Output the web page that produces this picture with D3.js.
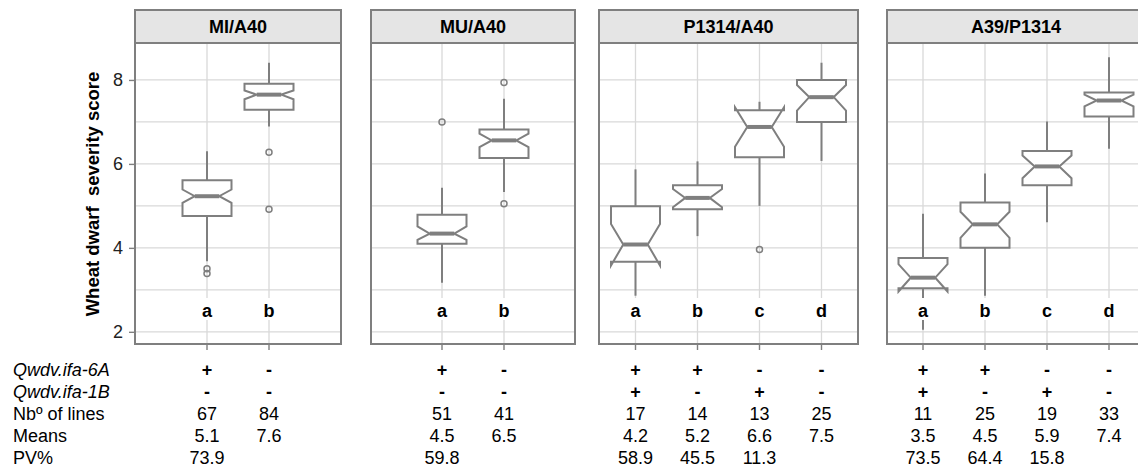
<!DOCTYPE html>
<html><head><meta charset="utf-8">
<script src="https://cdn.jsdelivr.net/npm/d3@7"></script>
<style>body{margin:0;background:#fff}svg{display:block;font-family:"Liberation Sans",Arial,sans-serif}</style>
</head><body><svg id="c" width="1138" height="467"></svg>
<script>
// ---- data ----
const panels = ["MI/A40", "MU/A40", "P1314/A40", "A39/P1314"];
const groupPanel = [0, 0, 1, 1, 2, 2, 2, 2, 3, 3, 3, 3];
const letters = ["a", "b", "a", "b", "a", "b", "c", "d", "a", "b", "c", "d"];
const whiskerLow  = [3.68, 6.89, 3.17, 5.33, 2.86, 4.28, 5.00, 6.07, 2.05, 2.86, 4.61, 6.36];
const q1          = [4.76, 7.29, 4.10, 6.14, 3.67, 4.92, 6.16, 7.00, 3.04, 4.00, 5.49, 7.13];
const notchLow    = [5.07, 7.54, 4.19, 6.40, 3.58, 4.97, 6.41, 7.27, 2.96, 4.24, 5.66, 7.37];
const median      = [5.23, 7.65, 4.34, 6.56, 4.08, 5.19, 6.88, 7.59, 3.29, 4.56, 5.94, 7.51];
const notchHigh   = [5.39, 7.75, 4.51, 6.72, 4.57, 5.40, 7.35, 7.88, 3.61, 4.86, 6.20, 7.65];
const q3          = [5.61, 7.91, 4.79, 6.82, 4.99, 5.49, 7.28, 8.00, 3.76, 5.08, 6.31, 7.70];
const whiskerHigh = [6.30, 8.41, 5.43, 7.55, 5.87, 6.06, 7.48, 8.41, 4.81, 5.77, 7.01, 8.54];
const outliers    = [[3.50, 3.39], [6.28, 4.92], [7.00], [7.94, 5.05], [], [], [3.96], [], [], [], [], []];
const qtl6A   = ["+", "-", "+", "-", "+", "+", "-", "-", "+", "+", "-", "-"];
const qtl1B   = ["-", "-", "-", "-", "+", "-", "+", "-", "+", "-", "+", "-"];
const nLines  = ["67", "84", "51", "41", "17", "14", "13", "25", "11", "25", "19", "33"];
const means   = ["5.1", "7.6", "4.5", "6.5", "4.2", "5.2", "6.6", "7.5", "3.5", "4.5", "5.9", "7.4"];
const pv      = ["73.9", "", "59.8", "", "58.9", "45.5", "11.3", "", "73.5", "64.4", "15.8", ""];
const rowLabels = ["Qwdv.ifa-6A", "Qwdv.ifa-1B", "Nb\u00BA of lines", "Means", "PV%"];
const yTicks = [2, 4, 6, 8];
const yMinor = [3, 5, 7];
const yTitle = "Wheat dwarf  severity score";

// ---- layout ----
const panelLeft = [135, 371, 599, 887];
const panelWidth = [206, 204, 259, 258];
const stripTop = 10, plotTop = 43, plotBottom = 344;
const step = 62, boxW = 49;
const grey = "#7f7f7f", gridC = "#d9d9d9";

const svg = d3.select("#c");
const y = d3.scaleLinear().domain([1.71, 8.88]).range([plotBottom, plotTop]);

const xPos = [];
panels.forEach((p, pi) => {
  const idx = groupPanel.map((g, i) => g === pi ? i : -1).filter(i => i >= 0);
  const n = idx.length;
  const pad = (panelWidth[pi] / step - (n - 1)) / 2;
  const xs = d3.scalePoint().domain(idx).range([panelLeft[pi], panelLeft[pi] + panelWidth[pi]]).padding(pad);
  idx.forEach(i => xPos[i] = xs(i));

  const g = svg.append("g");
  const L = panelLeft[pi], R = L + panelWidth[pi];
  // grid
  yTicks.concat(yMinor).forEach(v => {
    g.append("line").attr("x1", L).attr("x2", R).attr("y1", y(v)).attr("y2", y(v))
      .attr("stroke", gridC).attr("stroke-width", 1.3);
  });
  idx.forEach(i => {
    g.append("line").attr("x1", xs(i)).attr("x2", xs(i)).attr("y1", plotTop).attr("y2", plotBottom)
      .attr("stroke", gridC).attr("stroke-width", 1.3);
    // x ticks
    g.append("line").attr("x1", xs(i)).attr("x2", xs(i)).attr("y1", plotBottom).attr("y2", plotBottom + 6)
      .attr("stroke", grey).attr("stroke-width", 1.4);
  });
  // boxes
  idx.forEach(i => {
    const cx = xs(i), h = boxW / 2, q = boxW / 4;
    const gb = g.append("g").attr("stroke", grey).attr("fill", "none");
    gb.append("line").attr("x1", cx).attr("x2", cx).attr("y1", y(q3[i])).attr("y2", y(whiskerHigh[i])).attr("stroke-width", 2);
    gb.append("line").attr("x1", cx).attr("x2", cx).attr("y1", y(q1[i])).attr("y2", y(whiskerLow[i])).attr("stroke-width", 2);
    const pts = [
      [cx - h, y(q1[i])], [cx - h, y(notchLow[i])], [cx - q, y(median[i])], [cx - h, y(notchHigh[i])],
      [cx - h, y(q3[i])], [cx + h, y(q3[i])], [cx + h, y(notchHigh[i])], [cx + q, y(median[i])],
      [cx + h, y(notchLow[i])], [cx + h, y(q1[i])]
    ];
    gb.append("path").attr("d", d3.line()(pts) + "Z").attr("fill", "#fff").attr("stroke-width", 2)
      .attr("stroke-linejoin", "miter");
    gb.append("line").attr("x1", cx - q).attr("x2", cx + q).attr("y1", y(median[i])).attr("y2", y(median[i])).attr("stroke-width", 4);
    outliers[i].forEach(o => {
      gb.append("circle").attr("cx", cx).attr("cy", y(o)).attr("r", 3).attr("stroke-width", 1.5).attr("fill", "none");
    });
    // letter label
    const ly = 317;
    g.append("rect").attr("x", cx - 10).attr("y", ly - 19).attr("width", 20).attr("height", 22).attr("fill", "#fff");
    g.append("text").attr("x", cx).attr("y", ly).attr("text-anchor", "middle")
      .attr("font-weight", "bold").attr("font-size", 18).attr("fill", "#000").text(letters[i]);
  });
  // border
  g.append("rect").attr("x", L).attr("y", plotTop).attr("width", R - L).attr("height", plotBottom - plotTop)
    .attr("fill", "none").attr("stroke", grey).attr("stroke-width", 2);
  // strip
  g.append("rect").attr("x", L).attr("y", stripTop).attr("width", R - L).attr("height", plotTop - stripTop)
    .attr("fill", "#e5e5e5").attr("stroke", grey).attr("stroke-width", 2);
  g.append("text").attr("x", (L + R) / 2).attr("y", (stripTop + plotTop) / 2).attr("dy", "0.36em")
    .attr("text-anchor", "middle").attr("font-weight", "bold").attr("font-size", 18).attr("fill", "#000").text(p);
});

// y axis
const ax = svg.append("g").attr("transform", `translate(${panelLeft[0]},0)`)
  .call(d3.axisLeft(y).tickValues(yTicks).tickSize(6).tickPadding(6).tickFormat(d3.format("d")));
ax.select(".domain").remove();
ax.selectAll(".tick line").attr("stroke", grey).attr("stroke-width", 1.4);
ax.selectAll(".tick text").attr("font-size", 18).attr("fill", "#222").attr("font-family", "Liberation Sans, Arial, sans-serif");

svg.append("text").attr("transform", "translate(92,194) rotate(-90)").attr("dy", "0.36em")
  .attr("text-anchor", "middle").attr("font-weight", "bold").attr("font-size", 18.5).attr("fill", "#000")
  .style("white-space", "pre").text(yTitle);

// table
const rowBase = [376, 398, 420, 442, 464];
const rows = [qtl6A, qtl1B, nLines, means, pv];
rowLabels.forEach((lab, r) => {
  svg.append("text").attr("x", 13).attr("y", rowBase[r]).attr("font-size", 18).attr("fill", "#000")
    .attr("font-style", r < 2 ? "italic" : "normal").text(lab);
  rows[r].forEach((v, i) => {
    if (!v) return;
    svg.append("text").attr("x", xPos[i]).attr("y", rowBase[r]).attr("text-anchor", "middle")
      .attr("font-size", 18).attr("fill", "#000").attr("font-weight", r < 2 ? "bold" : "normal").text(v);
  });
});
</script></body></html>
